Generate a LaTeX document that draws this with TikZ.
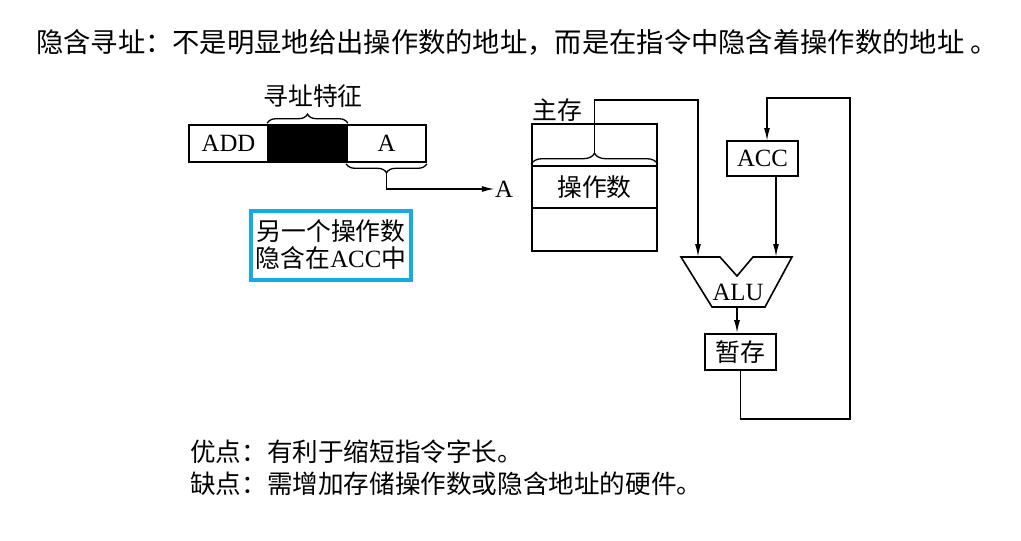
\documentclass[tikz,border=0pt]{standalone}
\usepackage{fontspec}
\setmainfont{Liberation Serif}
\newfontfamily\cjk{Noto Sans CJK SC}
\usetikzlibrary{arrows.meta,decorations.pathreplacing}
\definecolor{noteblue}{RGB}{20,170,230}

\begin{document}
\begin{tikzpicture}[x=1pt,y=-1pt,
  every node/.style={inner sep=0pt},
  lbl/.style={font=\fontsize{24.8}{27}\selectfont},
  box/.style={draw, line width=1.6pt, lbl},
  field/.style={box, minimum width=79pt, minimum height=37pt},
  wire/.style={line width=1.6pt},
  arr/.style={wire, -{Latex[length=13pt,width=6pt]}},
  brc/.style={decorate, decoration={brace, amplitude=#1, raise=1pt}, line width=1.3pt}]

\fill[white] (0,0) rectangle (1021,541);
\useasboundingbox (0,0) rectangle (1021,541);

% heading
\node[anchor=west, font=\fontsize{27.3}{32}\selectfont] (title) at (36,42)
  {\cjk 隐含寻址：不是明显地给出操作数的地址，而是在指令中隐含着操作数的地址 。};

% instruction word
\node[field] (add) at (228.5,143.5) {ADD};
\node[field, fill=black] (feat) at (307.5,143.5) {};
\node[field] (afield) at (386.5,143.5) {A};
\draw[brc=9pt] (feat.north west) -- (feat.north east);
\node[lbl] (featlbl) at (313,96) {\cjk 寻址特征};
\draw[brc=9pt] (afield.south east) -- (afield.south west);
\coordinate (atip) at (386.5,172);
\node[lbl] (addr) at (504,189) {A};
\draw[arr] (atip) |- (addr.west);

% note
\node[draw=noteblue, line width=4pt, minimum width=160pt, minimum height=69pt,
      align=center, lbl] (note) at (331,245)
  {{\cjk 另一个操作数}\\{\cjk 隐含在}ACC{\cjk 中}};

% main memory
\node[lbl] (memlbl) at (557,110) {\cjk 主存};
\node[box, minimum width=125pt, minimum height=127pt] (mem) at (594.5,187.5) {};
\node[box, minimum width=125pt, minimum height=42pt] (opnd) at (594.5,187) {\cjk 操作数};
\draw[brc=11pt] (opnd.north west) -- (opnd.north east);
\coordinate (mtip) at (594.5,154);

% ALU
\coordinate (a1) at (681,257);
\coordinate (a2) at (720,257);
\coordinate (a3) at (737,276);
\coordinate (a4) at (753,257);
\coordinate (a5) at (792,257);
\coordinate (a6) at (765,307);
\coordinate (a7) at (712,307);
\draw[wire, line join=miter] (a1) -- (a2) -- (a3) -- (a4) -- (a5) -- (a6) -- (a7) -- cycle;
\node[lbl] (alu) at (738,292) {ALU};
\coordinate (aluL) at (698,257);
\coordinate (aluR) at (776,257);
\coordinate (aluout) at (737,307);

% accumulator and temporary register
\node[box, minimum width=71pt, minimum height=35pt] (acc) at (762.5,158.5) {ACC};
\node[box, minimum width=71pt, minimum height=36pt] (tmp) at (740.5,352) {\cjk 暂存};

% data paths
\coordinate (bendM) at (698,100);
\draw[arr] (mtip) |- (bendM) -- (aluL);
\draw[arr] (acc.south -| aluR) -- (aluR);
\draw[arr] (aluout) -- (aluout |- tmp.north);
\coordinate (fb1) at (740.5,419);
\coordinate (fb3) at (850,98);
\coordinate (accin) at (767,141);
\draw[arr] (tmp.south) -- (fb1) -| (fb3) -| (accin);

% summary
\node[anchor=west, font=\fontsize{25.6}{30}\selectfont] (pro) at (190,452)
  {\cjk 优点：有利于缩短指令字长。};
\node[anchor=west, font=\fontsize{25.6}{30}\selectfont] (con) at (190,484)
  {\cjk 缺点：需增加存储操作数或隐含地址的硬件。};
\end{tikzpicture}
\end{document}
